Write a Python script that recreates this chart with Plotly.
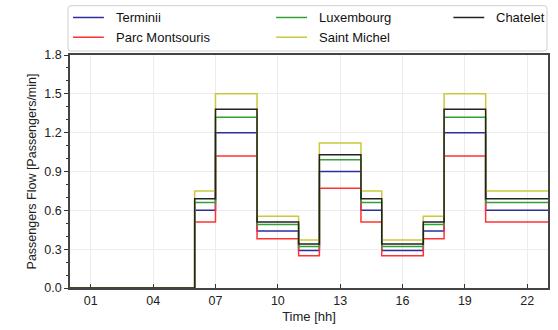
import plotly.graph_objects as go

# Hourly passenger flow per station, one value per hour segment [h, h+1), hours 0..22,
# plus a closing value at hour 23 so the last step reaches the right edge.
hours = list(range(24))

terminii = [0, 0, 0, 0, 0, 0, 0.60, 1.20, 1.20, 0.44, 0.44, 0.29, 0.90, 0.90,
            0.60, 0.29, 0.29, 0.44, 1.20, 1.20, 0.60, 0.60, 0.60, 0.60]
parc_montsouris = [0, 0, 0, 0, 0, 0, 0.51, 1.02, 1.02, 0.38, 0.38, 0.25, 0.77, 0.77,
                   0.51, 0.25, 0.25, 0.38, 1.02, 1.02, 0.51, 0.51, 0.51, 0.51]
luxembourg = [0, 0, 0, 0, 0, 0, 0.66, 1.32, 1.32, 0.49, 0.49, 0.32, 0.99, 0.99,
              0.66, 0.32, 0.32, 0.49, 1.32, 1.32, 0.66, 0.66, 0.66, 0.66]
saint_michel = [0, 0, 0, 0, 0, 0, 0.75, 1.50, 1.50, 0.555, 0.555, 0.37, 1.12, 1.12,
                0.75, 0.37, 0.37, 0.555, 1.50, 1.50, 0.75, 0.75, 0.75, 0.75]
chatelet = [0, 0, 0, 0, 0, 0, 0.69, 1.38, 1.38, 0.51, 0.51, 0.34, 1.03, 1.03,
            0.69, 0.34, 0.34, 0.51, 1.38, 1.38, 0.69, 0.69, 0.69, 0.69]

x_tick_vals = [1, 4, 7, 10, 13, 16, 19, 22]
x_tick_text = ["01", "04", "07", "10", "13", "16", "19", "22"]

# drawing order: Chatelet last so it sits on top
series = [
    ("Terminii", terminii, "#2e2e9c"),
    ("Parc Montsouris", parc_montsouris, "#ff3333"),
    ("Luxembourg", luxembourg, "#33a033"),
    ("Saint Michel", saint_michel, "#c9c93a"),
    ("Chatelet", chatelet, "#222222"),
]

# key box: pixel position (sample-line start x, row centre y) of each entry
key_slots = {
    "Terminii": (73, 17),
    "Parc Montsouris": (73, 37),
    "Luxembourg": (277, 17),
    "Saint Michel": (277, 37),
    "Chatelet": (455, 17),
}
KEY_LINE_LEN, KEY_TEXT_GAP = 31, 11

FONT = "Liberation Sans, Arial, sans-serif"
W, H = 558, 330
ML, MR, MT, MB = 70, 8, 55, 39
PW, PH = W - ML - MR, H - MT - MB


def px_x(p):
    return (p - ML) / PW


def px_y(p):
    return (H - MB - p) / PH


fig = go.Figure()
shapes, annotations = [], []
for name, vals, color in series:
    fig.add_trace(go.Scatter(
        x=hours, y=vals, name=name, mode="lines",
        line=dict(color=color, width=1.5, shape="hv"),
        showlegend=False,
    ))
    kx, ky = key_slots[name]
    shapes.append(dict(type="line", xref="paper", yref="paper",
                       x0=px_x(kx), x1=px_x(kx + KEY_LINE_LEN),
                       y0=px_y(ky), y1=px_y(ky),
                       line=dict(color=color, width=1.5)))
    annotations.append(dict(text=name, xref="paper", yref="paper",
                            x=px_x(kx + KEY_LINE_LEN + KEY_TEXT_GAP - 1), y=px_y(ky),
                            xanchor="left", yanchor="middle", showarrow=False,
                            font=dict(family=FONT, size=13, color="#111")))

# rounded frame around the key
x0, x1 = px_x(68), px_x(549)
y0, y1 = px_y(51), px_y(5)
rx, ry = 3 / PW, 3 / PH
frame = (f"M {x0+rx},{y1} L {x1-rx},{y1} Q {x1},{y1} {x1},{y1-ry} "
         f"L {x1},{y0+ry} Q {x1},{y0} {x1-rx},{y0} L {x0+rx},{y0} "
         f"Q {x0},{y0} {x0},{y0+ry} L {x0},{y1-ry} Q {x0},{y1} {x0+rx},{y1} Z")
shapes.insert(0, dict(type="path", path=frame, xref="paper", yref="paper",
                      line=dict(color="#d0d0d0", width=1), fillcolor="rgba(0,0,0,0)"))

fig.update_layout(
    width=W, height=H,
    margin=dict(l=ML, r=MR, t=MT, b=MB),
    paper_bgcolor="white", plot_bgcolor="white",
    font=dict(family=FONT, size=12, color="#333"),
    showlegend=False,
    shapes=shapes, annotations=annotations,
    xaxis=dict(
        range=[0, 23], tickvals=x_tick_vals, ticktext=x_tick_text,
        ticks="inside", ticklen=4, tickcolor="#333",
        showgrid=True, gridcolor="#ececec", gridwidth=1,
        showline=True, linecolor="#444", linewidth=1.5, mirror=True,
        zeroline=False,
        tickfont=dict(family=FONT, size=12.5, color="#222"),
        title=dict(text="Time [hh]", font=dict(family=FONT, size=13, color="#222"), standoff=5),
    ),
    yaxis=dict(
        range=[0, 1.8], dtick=0.3, tick0=0, tickformat=".1f",
        ticks="outside", ticklen=4, tickcolor="#333",
        minor=dict(dtick=0.1, ticks="outside", ticklen=2, tickcolor="#333", showgrid=False),
        showgrid=True, gridcolor="#ececec", gridwidth=1,
        showline=True, linecolor="#444", linewidth=1.5, mirror=True,
        zeroline=False,
        tickfont=dict(family=FONT, size=12.5, color="#222"),
        title=dict(text="Passengers Flow [Passengers/min]",
                   font=dict(family=FONT, size=12.5, color="#222"), standoff=5),
    ),
)

fig.write_html("out.html")
